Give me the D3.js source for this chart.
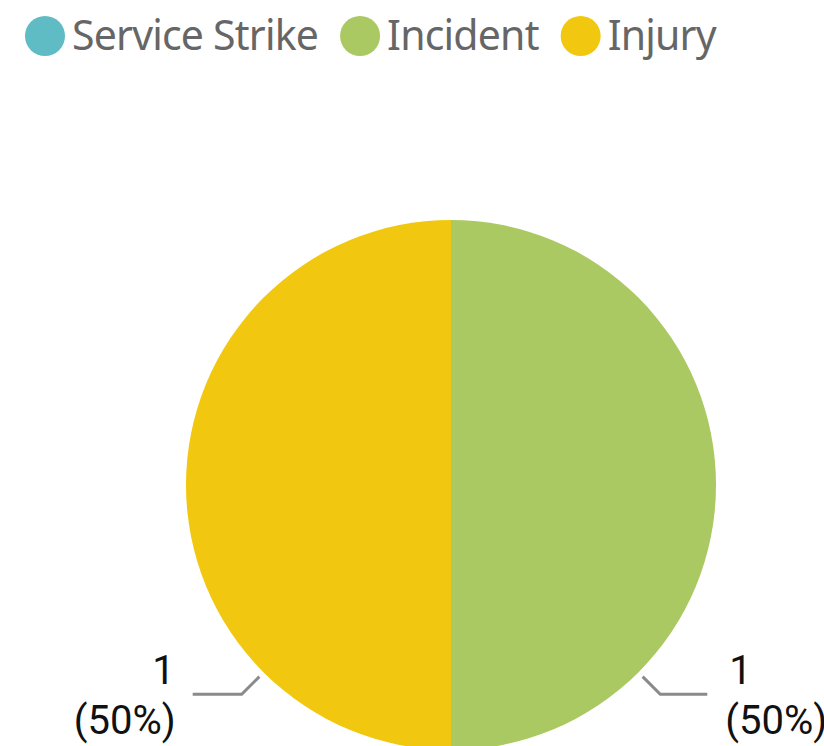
<!DOCTYPE html>
<html>
<head>
<meta charset="utf-8">
<script src="https://cdn.jsdelivr.net/npm/d3@7"></script>
<style>
  html, body { margin: 0; padding: 0; background: #fff; overflow: hidden; }
</style>
</head>
<body>
<div id="chart"></div>
<script>
// data
const categories = ['Service Strike', 'Incident', 'Injury']
const values = [0, 1, 1]
const colorList = ['#5fbcc4', '#aac962', '#f1c80f']

const w = 824
const h = 746

const color = d3.scaleOrdinal().domain(categories).range(colorList)

const svg = d3.select('#chart')
  .append('svg')
  .attr('width', w)
  .attr('height', h)

/*
 * Legend
 */
const legend = svg.append('g').attr('transform', 'translate(25, 36)')
let lx = 0
categories.forEach(c => {
  const item = legend.append('g').attr('transform', `translate(${lx}, 0)`)
  item.append('circle')
    .attr('cx', 20)
    .attr('cy', 0)
    .attr('r', 20)
    .style('fill', color(c))
  const t = item.append('text')
    .attr('x', 47)
    .attr('y', 14)
    .style('font-family', '"Segoe UI", "Noto Sans", sans-serif')
    .style('font-size', '41px')
    .style('letter-spacing', '-0.8px')
    .style('fill', '#666')
    .text(c)
  lx += 47 + t.node().getComputedTextLength() + 22
})

/*
 * Pie
 */
const cx = 451
const cy = 485
const r = 265

const pie = d3.pie().sort(null).value(d => d.value)
const arcs = pie(categories.map((c, i) => ({ name: c, value: values[i] })))

const arc = d3.arc().innerRadius(0).outerRadius(r)

const g = svg.append('g').attr('transform', `translate(${cx}, ${cy})`)

g.selectAll('path')
  .data(arcs.filter(d => d.value > 0))
  .enter()
  .append('path')
  .attr('d', arc)
  .style('fill', d => color(d.data.name))

// labels sit toward the bottom of each slice
const total = d3.sum(values)
const fmt = d3.format('.0%')

const labelled = arcs.filter(d => d.value > 0).map(d => {
  const mid = (d.startAngle + d.endAngle) / 2
  const a = (mid + Math.PI) / 2
  const right = Math.sin(a) > 0
  const p0 = [Math.sin(a) * (r + 6), -Math.cos(a) * (r + 6)]
  const p1 = [Math.sin(a) * (r + 31), -Math.cos(a) * (r + 31)]
  const p2 = [p1[0] + (right ? 47 : -49), p1[1]]
  return { d, right, pts: [p0, p1, p2] }
})

g.selectAll('polyline')
  .data(labelled)
  .enter()
  .append('polyline')
  .attr('points', l => l.pts.map(p => p.join(',')).join(' '))
  .style('fill', 'none')
  .style('stroke', '#8a8a8a')
  .style('stroke-width', 3)

const labels = g.selectAll('text.lbl')
  .data(labelled)
  .enter()
  .append('text')
  .attr('class', 'lbl')
  .attr('text-anchor', l => l.right ? 'start' : 'end')
  .style('font-family', 'Roboto, sans-serif')
  .style('font-size', '40px')
  .style('fill', '#111')

labels.append('tspan')
  .attr('x', l => l.pts[2][0] + (l.right ? 20 : -14))
  .attr('y', l => l.pts[2][1] - 10)
  .attr('dx', l => l.right ? 2 : -4)
  .text(l => l.d.value)

labels.append('tspan')
  .attr('x', l => l.pts[2][0] + (l.right ? 18 : -17))
  .attr('y', l => l.pts[2][1] + 40)
  .text(l => '(' + fmt(l.d.value / total) + ')')
</script>
</body>
</html>
